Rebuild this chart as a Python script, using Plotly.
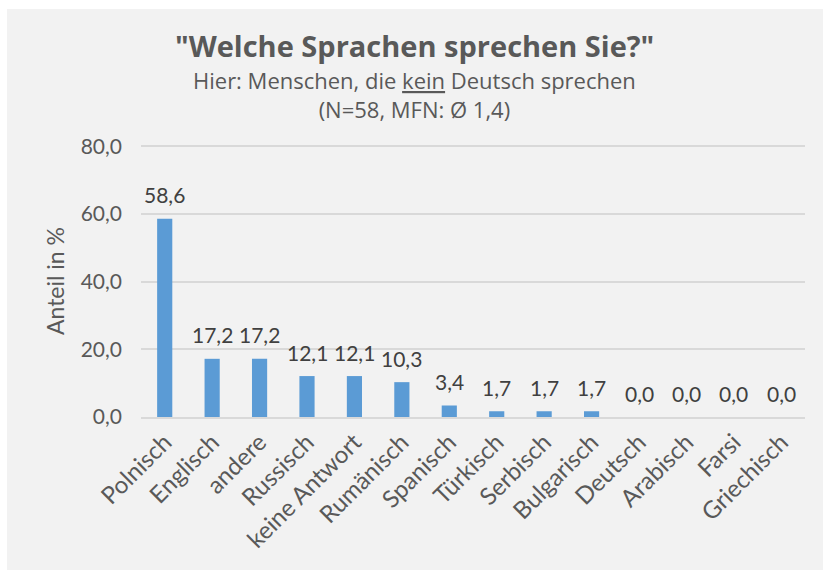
import plotly.graph_objects as go

# Survey: languages spoken by respondents without German
sprachen = ["Polnisch", "Englisch", "andere", "Russisch", "keine Antwort", "Rumänisch",
            "Spanisch", "Türkisch", "Serbisch", "Bulgarisch", "Deutsch", "Arabisch",
            "Farsi", "Griechisch"]
anteile = [58.6, 17.2, 17.2, 12.1, 12.1, 10.3, 3.4, 1.7, 1.7, 1.7, 0.0, 0.0, 0.0, 0.0]
y_ticks = [0, 20, 40, 60, 80]

text_grey = "#595959"
label_grey = "#404040"
bar_blue = "#5B9BD5"
grid_grey = "#D9D9D9"
panel_grey = "#F2F2F2"
tick_font = "Lato, Carlito, Calibri, sans-serif"
title_font = "Open Sans, Arial, sans-serif"

plot_top, plot_bottom = 145, 417
plot_left, plot_right = 141, 805
ph = plot_bottom - plot_top
pw = plot_right - plot_left

fig = go.Figure()
fig.add_trace(go.Bar(
    x=sprachen, y=anteile,
    marker=dict(color=bar_blue, line=dict(width=0)),
    hoverinfo="x+y",
))

# value labels above each bar
for name, val in zip(sprachen, anteile):
    fig.add_annotation(
        x=name, y=val, xref="x", yref="y",
        text=f"{val:.1f}".replace(".", ","),
        showarrow=False, yanchor="middle", yshift=24,
        font=dict(family=tick_font, size=21, color=label_grey),
    )

# chart title block
titles = [
    ('<b>"Welche Sprachen sprechen Sie?"</b>', 29, 45),
    ("Hier: Menschen, die <u>kein</u> Deutsch sprechen<br>(N=58, MFN: Ø 1,4)", 22, 94),
]
for txt, size, ypix in titles:
    fig.add_annotation(
        x=(414 - plot_left) / pw, y=(plot_bottom - ypix) / ph,
        xref="paper", yref="paper", text=txt, showarrow=False,
        xanchor="center", yanchor="middle", align="center",
        font=dict(family=title_font, size=size, color=text_grey),
    )

# grey chart panel
fig.add_shape(
    type="rect", xref="paper", yref="paper", layer="below",
    x0=(7 - plot_left) / pw, x1=(830 - plot_left) / pw,
    y0=(plot_bottom - 580) / ph, y1=(plot_bottom - 9) / ph,
    fillcolor=panel_grey, line=dict(width=0),
)

fig.update_layout(
    width=823, height=570,
    margin=dict(l=plot_left, r=823 - plot_right, t=plot_top, b=570 - plot_bottom),
    paper_bgcolor="white", plot_bgcolor="rgba(0,0,0,0)",
    separators=",.",
    bargap=0.68,
    showlegend=False,
    font=dict(family=tick_font, color=text_grey),
)
fig.update_xaxes(
    tickangle=-45, tickfont=dict(size=24, color=text_grey, family=tick_font),
    showgrid=False, showline=True, linecolor=grid_grey, linewidth=1.5,
    ticks="", zeroline=False,
)
fig.update_yaxes(
    range=[0, 80.4], tickvals=y_ticks, tickformat=".1f",
    tickfont=dict(size=21, color=text_grey, family=tick_font),
    ticklabelstandoff=18,
    showgrid=True, gridcolor=grid_grey, gridwidth=1.5, zeroline=False,
    ticks="", ticklen=0, showline=False,
    title=dict(text="Anteil in %", font=dict(size=23, color=text_grey, family=tick_font), standoff=9),
)

fig.write_html("out.html")
